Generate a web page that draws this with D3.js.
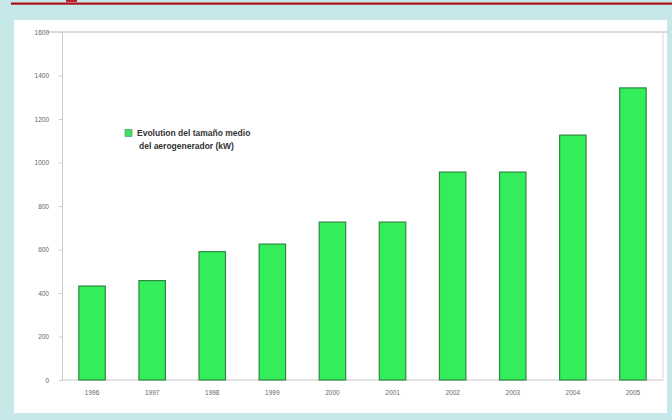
<!DOCTYPE html>
<html><head><meta charset="utf-8">
<script src="https://cdn.jsdelivr.net/npm/d3@7"></script>
<style>
html,body{margin:0;padding:0;background:#c6e8e8;}
svg{display:block;}
</style></head>
<body>
<svg id="c" width="672" height="420"></svg>
<script>
const years = ["1996","1997","1998","1999","2000","2001","2002","2003","2004","2005"];
const sizeKW = [432, 457, 590, 625, 726, 726, 956, 956, 1126, 1343];
const yTicks = [0, 200, 400, 600, 800, 1000, 1200, 1400, 1600];
const legendLines = ["Evolution del tamaño medio", "del aerogenerador (kW)"];

const svg = d3.select("#c");
svg.append("rect").attr("width",672).attr("height",420).attr("fill","#c6e8e8");
svg.append("rect").attr("x",11).attr("y",2.5).attr("width",661).attr("height",2.2).attr("fill","#b0101a");
svg.append("rect").attr("x",66).attr("y",0).attr("width",11).attr("height",2).attr("fill","#c0202a");
svg.append("rect").attr("x",14).attr("y",20).attr("width",653).attr("height",393).attr("fill","#ffffff");

const L=62, R=663, T=32, B=380;
const x = d3.scaleBand().domain(years).range([L,R]).paddingInner(0.56).paddingOuter(0.28);
const y = d3.scaleLinear().domain([0,1600]).range([B,T]);

svg.append("line").attr("x1",46).attr("x2",668).attr("y1",T).attr("y2",T).attr("stroke","#cfcfcf").attr("stroke-width",1.5);
svg.append("line").attr("x1",R).attr("x2",R).attr("y1",T).attr("y2",B).attr("stroke","#d8d8d8").attr("stroke-width",1);
svg.append("line").attr("x1",L).attr("x2",R).attr("y1",B).attr("y2",B).attr("stroke","#c8c8c8").attr("stroke-width",1);

const ya = svg.append("g").attr("transform",`translate(${L},0)`)
  .call(d3.axisLeft(y).tickValues(yTicks).tickFormat(d3.format("d")).tickSize(3).tickPadding(10));
ya.select(".domain").attr("stroke","#cccccc");
ya.selectAll(".tick line").attr("stroke","#cccccc");
ya.selectAll("text").attr("fill","#666").attr("font-family","Liberation Sans, Arial, sans-serif").attr("font-size",6.5);

const xa = svg.append("g").attr("transform",`translate(0,${B})`)
  .call(d3.axisBottom(x).tickSize(0).tickPadding(10));
xa.select(".domain").remove();
xa.selectAll("text").attr("fill","#666").attr("font-family","Liberation Sans, Arial, sans-serif").attr("font-size",6.5);

svg.append("g").selectAll("rect").data(years).join("rect")
  .attr("x", d=>x(d)).attr("width", x.bandwidth())
  .attr("y", (d,i)=>y(sizeKW[i])).attr("height",(d,i)=>B-y(sizeKW[i]))
  .attr("fill","#33ee5a").attr("stroke","#2f8a40").attr("stroke-width",1.2);

const lg = svg.append("g");
lg.append("rect").attr("x",125).attr("y",129.5).attr("width",7).attr("height",7).attr("fill","#44dd66").attr("stroke","#3a9a4a").attr("stroke-width",0.6);
lg.selectAll("text").data(legendLines).join("text")
  .attr("x",(d,i)=> i===0 ? 137 : 139).attr("y",(d,i)=>136+i*12.5)
  .attr("font-family","Liberation Sans, Arial, sans-serif").attr("font-size",8.5).attr("font-weight","bold")
  .attr("fill","#333").text(d=>d);
</script>
</body></html>
